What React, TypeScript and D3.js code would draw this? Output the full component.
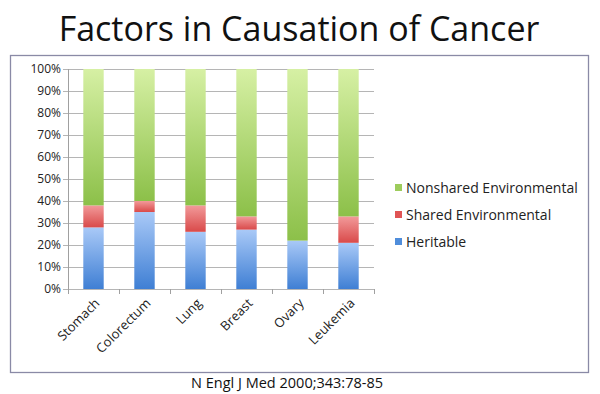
import React, { useEffect, useRef } from 'react';
import * as d3 from 'd3';

const categories = ['Stomach', 'Colorectum', 'Lung', 'Breast', 'Ovary', 'Leukemia'];
const heritable = [28, 35, 26, 27, 22, 21];
const sharedEnv = [10, 5, 12, 6, 0, 12];
const nonsharedEnv = [62, 60, 62, 67, 78, 67];
const seriesNames = ['Heritable', 'Shared Environmental', 'Nonshared Environmental'];
const yTicks = [0, 10, 20, 30, 40, 50, 60, 70, 80, 90, 100];

const gradients = [
  { id: 'gBlue', top: '#a9c9f7', bottom: '#3f7fd4', swatch: '#4f8ddb' },
  { id: 'gRed', top: '#f29a9a', bottom: '#d94a4a', swatch: '#e05454' },
  { id: 'gGreen', top: '#d6f0a4', bottom: '#8cc049', swatch: '#9dcc5c' },
];

const App: React.FC = () => {
  const svgRef = useRef<SVGSVGElement | null>(null);

  useEffect(() => {
    if (!svgRef.current) return;
    const width = 600;
    const height = 394;
    const svg = d3.select(svgRef.current).attr('width', width).attr('height', height);
    svg.selectAll('*').remove();

    const font = 'Open Sans, sans-serif';

    const defs = svg.append('defs');
    gradients.forEach((g) => {
      const lg = defs
        .append('linearGradient')
        .attr('id', g.id)
        .attr('x1', 0)
        .attr('y1', 0)
        .attr('x2', 0)
        .attr('y2', 1);
      lg.append('stop').attr('offset', '0%').attr('stop-color', g.top);
      lg.append('stop').attr('offset', '100%').attr('stop-color', g.bottom);
    });

    // Title
    svg
      .append('text')
      .attr('x', 299)
      .attr('y', 41)
      .attr('text-anchor', 'middle')
      .style('font-family', font)
      .style('font-size', '34px')
      .attr('fill', '#111')
      .text('Factors in Causation of Cancer');

    // Chart box
    svg
      .append('rect')
      .attr('x', 10.5)
      .attr('y', 55.5)
      .attr('width', 578)
      .attr('height', 317)
      .attr('fill', 'white')
      .attr('stroke', '#8a8aa6')
      .attr('stroke-width', 1.3);

    const plot = { left: 68, right: 374, top: 69, bottom: 289 };

    const x = d3
      .scaleBand<string>()
      .domain(categories)
      .range([plot.left, plot.right])
      .paddingInner(0.6)
      .paddingOuter(0.3);
    const step = x.step();

    const y = d3.scaleLinear().domain([0, 100]).range([plot.bottom, plot.top]);

    // Grid
    svg
      .append('g')
      .selectAll('line')
      .data(yTicks)
      .enter()
      .append('line')
      .attr('x1', plot.left - 5)
      .attr('x2', plot.right)
      .attr('y1', (d) => Math.round(y(d)) + 0.5)
      .attr('y2', (d) => Math.round(y(d)) + 0.5)
      .attr('stroke', '#b5b5b5')
      .attr('stroke-width', 1);

    // y axis line
    svg
      .append('line')
      .attr('x1', plot.left + 0.5)
      .attr('x2', plot.left + 0.5)
      .attr('y1', plot.top)
      .attr('y2', plot.bottom)
      .attr('stroke', '#a0a0a0');

    // y labels
    svg
      .append('g')
      .selectAll('text')
      .data(yTicks)
      .enter()
      .append('text')
      .attr('x', plot.left - 7)
      .attr('y', (d) => y(d))
      .attr('dy', '0.35em')
      .attr('text-anchor', 'end')
      .style('font-family', font)
      .style('font-size', '12px')
      .attr('fill', '#222')
      .text((d) => `${d}%`);

    // x tick marks at category boundaries
    const boundaries = d3.range(categories.length + 1).map((i) => plot.left + i * step);
    svg
      .append('g')
      .selectAll('line')
      .data(boundaries)
      .enter()
      .append('line')
      .attr('x1', (d) => Math.round(d) + 0.5)
      .attr('x2', (d) => Math.round(d) + 0.5)
      .attr('y1', plot.bottom)
      .attr('y2', plot.bottom + 5)
      .attr('stroke', '#a0a0a0');

    // stacked bars
    const rows = categories.map((c, i) => ({
      category: c,
      Heritable: heritable[i],
      'Shared Environmental': sharedEnv[i],
      'Nonshared Environmental': nonsharedEnv[i],
    }));
    const stack = d3.stack<any>().keys(seriesNames);
    const layers = stack(rows);

    layers.forEach((layer, li) => {
      svg
        .append('g')
        .selectAll('rect')
        .data(layer)
        .enter()
        .append('rect')
        .attr('x', (d: any) => x(d.data.category) as number)
        .attr('width', x.bandwidth())
        .attr('y', (d) => y(d[1]))
        .attr('height', (d) => y(d[0]) - y(d[1]))
        .attr('fill', `url(#${gradients[li].id})`);
    });

    // x labels
    svg
      .append('g')
      .selectAll('text')
      .data(categories)
      .enter()
      .append('text')
      .attr(
        'transform',
        (d) => `translate(${(x(d) as number) + x.bandwidth() / 2 + 7},${plot.bottom + 15}) rotate(-45)`
      )
      .attr('text-anchor', 'end')
      .style('font-family', font)
      .style('font-size', '13px')
      .attr('fill', '#222')
      .text((d) => d);

    // legend (top to bottom: nonshared, shared, heritable)
    const legendItems = [2, 1, 0];
    const lg = svg.append('g');
    legendItems.forEach((si, i) => {
      const ly = 188 + i * 27;
      lg.append('rect')
        .attr('x', 395)
        .attr('y', ly - 4)
        .attr('width', 7)
        .attr('height', 7)
        .attr('fill', gradients[si].swatch);
      lg.append('text')
        .attr('x', 406)
        .attr('y', ly)
        .attr('dy', '0.35em')
        .style('font-family', font)
        .style('font-size', '14px')
        .attr('fill', '#222')
        .text(seriesNames[si]);
    });

    // source
    svg
      .append('text')
      .attr('x', 383)
      .attr('y', 388)
      .attr('text-anchor', 'end')
      .style('font-family', font)
      .style('font-size', '14.5px')
      .attr('fill', '#111')
      .text('N Engl J Med 2000;343:78-85');
  }, []);

  return <svg ref={svgRef} style={{ position: 'absolute', left: 0, top: 0 }}></svg>;
};

export default App;
